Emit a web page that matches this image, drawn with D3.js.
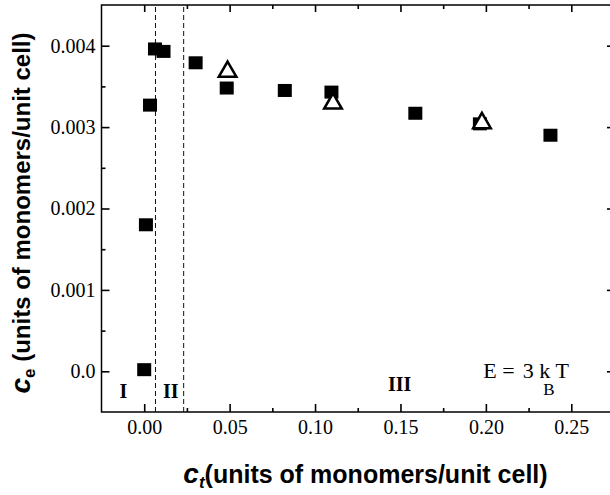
<!DOCTYPE html>
<html>
<head>
<meta charset="utf-8">
<script src="https://cdn.jsdelivr.net/npm/d3@7"></script>
<style>
  body { margin: 0; background: #fff; }
  .tick text { font-family: 'Liberation Serif', 'Times New Roman', serif; font-size: 20px; fill: #000; }
  .tick line { stroke: #000; stroke-width: 1.6; }
</style>
</head>
<body>
<div id="chart"></div>
<script>
// filled squares
var ctSquares = [0.000, 0.001, 0.0034, 0.0063, 0.0113, 0.0301, 0.0483, 0.0823, 0.1096, 0.1587, 0.1965, 0.2378]
var ceSquares = [0.00002, 0.0018, 0.00327, 0.00396, 0.00393, 0.00379, 0.00348, 0.00345, 0.00343, 0.00317, 0.00304, 0.0029]

// open triangles
var ctTriangles = [0.0488, 0.1105, 0.1977]
var ceTriangles = [0.00368, 0.00329, 0.00305]

// region boundaries (dashed)
var dividers = [0.0066, 0.0231]

var xTicks = [0, 0.05, 0.10, 0.15, 0.20, 0.25]
var xTickLabels = ['0.00', '0.05', '0.10', '0.15', '0.20', '0.25']
var xMinor = [0.025, 0.075, 0.125, 0.175, 0.225]
var yTicks = [0, 0.001, 0.002, 0.003, 0.004]
var yTickLabels = ['0.0', '0.001', '0.002', '0.003', '0.004']
var yMinor = [0.0005, 0.0015, 0.0025, 0.0035]

var regionLabels = ['I', 'II', 'III']
var regionX = [-0.0122, 0.0155, 0.1495]
var regionY = [-0.00033, -0.00033, -0.00024]

var margin = {top: 5, right: -4, bottom: 83, left: 101.5}
var width = 610 - margin.left - margin.right
var height = 495 - margin.top - margin.bottom

var svg = d3
  .select('#chart')
  .append('svg')
  .attr('width', 610)
  .attr('height', 495)
  .append('g')
  .attr('transform', 'translate(' + margin.left + ',' + margin.top + ')')

var x = d3.scaleLinear().domain([-0.025, 0.275]).range([0, width])
var y = d3.scaleLinear().domain([-0.0005, 0.0045]).range([height, 0])

// axes, ticks all pointing inward
svg.append('g')
  .attr('transform', 'translate(0,' + height + ')')
  .call(d3.axisBottom(x).tickValues(xTicks).tickSize(-8).tickPadding(8)
    .tickFormat((d, i) => xTickLabels[i]))
svg.append('g')
  .attr('transform', 'translate(0,' + height + ')')
  .call(d3.axisBottom(x).tickValues(xMinor).tickSize(-4).tickFormat(''))

svg.append('g')
  .call(d3.axisTop(x).tickValues(xTicks).tickSize(-7).tickFormat(''))
svg.append('g')
  .call(d3.axisTop(x).tickValues(xMinor).tickSize(-4).tickFormat(''))

svg.append('g')
  .call(d3.axisLeft(y).tickValues(yTicks).tickSize(-8).tickPadding(6)
    .tickFormat((d, i) => yTickLabels[i]))
svg.append('g')
  .call(d3.axisLeft(y).tickValues(yMinor).tickSize(-4).tickFormat(''))

svg.append('g')
  .attr('transform', 'translate(' + width + ',0)')
  .call(d3.axisRight(y).tickValues(yTicks).tickSize(-7).tickFormat(''))
svg.append('g')
  .attr('transform', 'translate(' + width + ',0)')
  .call(d3.axisRight(y).tickValues(yMinor).tickSize(-3).tickFormat(''))

// plain frame lines instead of the axis end caps
svg.selectAll('.domain').remove()
svg.append('rect')
  .attr('x', 0).attr('y', 0)
  .attr('width', width).attr('height', height)
  .attr('fill', 'none')
  .attr('stroke', '#000')
  .attr('stroke-width', 1.5)

// dashed region boundaries
svg.selectAll('.divider')
  .data(dividers)
  .enter()
  .append('line')
  .attr('class', 'divider')
  .attr('x1', d => x(d)).attr('x2', d => x(d))
  .attr('y1', y(-0.0005)).attr('y2', y(0.0045))
  .attr('stroke', '#111')
  .attr('stroke-width', 1)
  .attr('stroke-dasharray', '5,3')

// squares
var squares = ctSquares.map((d, i) => ({ct: d, ce: ceSquares[i]}))
svg.selectAll('.sq')
  .data(squares)
  .enter()
  .append('rect')
  .attr('class', 'sq')
  .attr('x', d => x(d.ct) - 7)
  .attr('y', d => y(d.ce) - 6.5)
  .attr('width', 14)
  .attr('height', 13)
  .attr('fill', '#000')

// triangles, on top
var triangles = ctTriangles.map((d, i) => ({ct: d, ce: ceTriangles[i]}))
svg.selectAll('.tri')
  .data(triangles)
  .enter()
  .append('path')
  .attr('class', 'tri')
  .attr('d', d3.symbol(d3.symbolTriangle, 135))
  .attr('transform', d => 'translate(' + x(d.ct) + ',' + y(d.ce) + ')')
  .attr('fill', '#fff')
  .attr('stroke', '#000')
  .attr('stroke-width', 2.5)

// region labels
svg.selectAll('.region')
  .data(regionLabels)
  .enter()
  .append('text')
  .attr('class', 'region')
  .text(d => d)
  .attr('x', (d, i) => x(regionX[i]))
  .attr('y', (d, i) => y(regionY[i]))
  .attr('text-anchor', 'middle')
  .attr('font-family', "'Liberation Serif', serif")
  .attr('font-weight', 'bold')
  .attr('font-size', 20)

// E = 3 kB T
var eLabel = svg.append('text')
  .attr('x', x(0.1985))
  .attr('y', y(-0.00008))
  .attr('font-family', "'Liberation Serif', serif")
  .attr('font-size', 22)
eLabel.append('tspan').text('E =')
eLabel.append('tspan').attr('dx', 8).text('3 k')
eLabel.append('tspan').attr('dx', -7).attr('dy', 17).attr('font-size', 17).text('B')
eLabel.append('tspan').attr('dx', 1).attr('dy', -17).text('T')

// axis titles
var xTitle = svg.append('text')
  .attr('x', 264)
  .attr('y', height + 71)
  .attr('text-anchor', 'middle')
  .attr('font-family', "'Liberation Sans', Arial, sans-serif")
  .attr('font-weight', 'bold')
  .attr('font-size', 25)
xTitle.append('tspan').attr('font-style', 'italic').attr('font-size', 28).text('c')
xTitle.append('tspan').attr('font-style', 'italic').attr('font-size', 17).attr('dy', 5).text('t')
xTitle.append('tspan').attr('dy', -5).text('(units of monomers/unit cell)')

var yTitle = svg.append('text')
  .attr('transform', 'translate(' + (30 - margin.left) + ',' + 208 + ') rotate(-90)')
  .attr('text-anchor', 'middle')
  .attr('font-family', "'Liberation Sans', Arial, sans-serif")
  .attr('font-weight', 'bold')
  .attr('font-size', 24)
yTitle.append('tspan').attr('font-style', 'italic').attr('font-size', 28).text('c')
yTitle.append('tspan').attr('font-size', 17).attr('dy', 5).text('e')
yTitle.append('tspan').attr('dy', -5).text(' (units of monomers/unit cell)')
</script>
</body>
</html>
